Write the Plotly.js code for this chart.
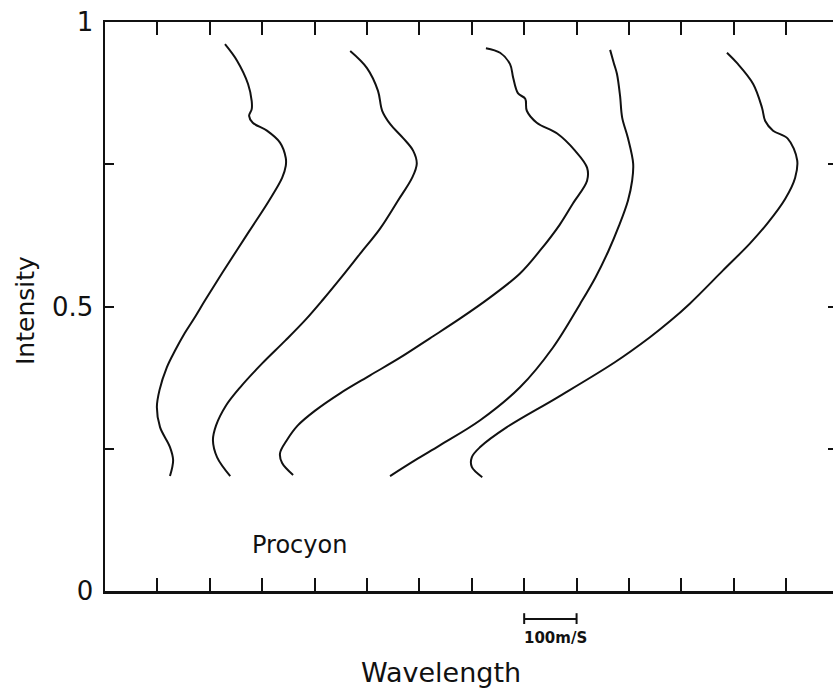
<!DOCTYPE html>
<html>
<head>
<meta charset="utf-8">
<script src="https://cdn.plot.ly/plotly-3.0.1.min.js"></script>
<style>
  html, body { margin: 0; padding: 0; overflow: hidden; background: #fff; }
  #chart { width: 850px; height: 690px; }
</style>
</head>
<body>
<div id="chart"></div>
<script>
// Line-profile bisectors (wavelength offset in m/s vs. relative intensity)
const profile1X = [229, 252, 273, 280, 280, 275, 282, 309, 334, 345, 345, 338, 313, 275, 223, 191, 170, 152, 134, 118, 104, 99, 105, 124, 130, 124];
const profile1Y = [0.961, 0.932, 0.891, 0.861, 0.847, 0.835, 0.823, 0.809, 0.788, 0.761, 0.747, 0.726, 0.686, 0.632, 0.558, 0.511, 0.479, 0.453, 0.423, 0.393, 0.353, 0.323, 0.288, 0.253, 0.230, 0.202];

const profile2X = [468, 500, 521, 529, 544, 569, 588, 595, 586, 559, 525, 487, 449, 415, 382, 344, 300, 258, 231, 212, 206, 214, 239];
const profile2Y = [0.949, 0.919, 0.879, 0.844, 0.821, 0.796, 0.774, 0.751, 0.726, 0.686, 0.637, 0.593, 0.549, 0.511, 0.476, 0.440, 0.400, 0.358, 0.326, 0.291, 0.265, 0.235, 0.202];

const profile3X = [727, 754, 773, 779, 788, 802, 805, 824, 863, 897, 920, 920, 893, 868, 830, 792, 735, 678, 620, 563, 506, 448, 401, 368, 347, 334, 338, 359];
const profile3Y = [0.954, 0.946, 0.926, 0.902, 0.875, 0.865, 0.844, 0.823, 0.804, 0.774, 0.744, 0.721, 0.681, 0.644, 0.598, 0.558, 0.516, 0.479, 0.444, 0.410, 0.379, 0.347, 0.317, 0.291, 0.265, 0.242, 0.225, 0.204];

const profile4X = [964, 971, 977, 983, 987, 998, 1008, 1006, 998, 981, 961, 936, 907, 855, 792, 716, 639, 592, 544];
const profile4Y = [0.951, 0.928, 0.909, 0.870, 0.832, 0.796, 0.751, 0.721, 0.686, 0.642, 0.598, 0.551, 0.505, 0.428, 0.358, 0.300, 0.256, 0.230, 0.202];

const profile5X = [1187, 1206, 1237, 1254, 1260, 1275, 1303, 1321, 1317, 1298, 1265, 1231, 1179, 1116, 1078, 1040, 973, 863, 767, 716, 700, 700, 720];
const profile5Y = [0.946, 0.928, 0.891, 0.849, 0.826, 0.809, 0.795, 0.757, 0.726, 0.689, 0.647, 0.611, 0.563, 0.505, 0.474, 0.446, 0.402, 0.340, 0.288, 0.253, 0.235, 0.218, 0.200];

const yTickVals = [0, 0.25, 0.5, 0.75, 1];
const yTickText = ["0", "", "0.5", "", "1"];
const scaleBar = [800, 900];          // 100 m/s
const scaleLabel = "100m/S";
const starLabel = "Procyon";
const starLabelPos = [276, 0.081];
const xTitle = "Wavelength";
const yTitle = "Intensity";

const profiles = [
  [profile1X, profile1Y], [profile2X, profile2Y], [profile3X, profile3Y],
  [profile4X, profile4Y], [profile5X, profile5Y]
];

const traces = profiles.map(p => ({
  x: p[0], y: p[1], type: 'scatter', mode: 'lines',
  line: { color: '#111', width: 2, shape: 'spline', smoothing: 1 },
  hoverinfo: 'skip', showlegend: false
}));

const font = "DejaVu Sans, Arial, sans-serif";
const W = 850, H = 690, M = { l: 105, r: 13, t: 22, b: 99 };
const plotW = W - M.l - M.r, plotH = H - M.t - M.b;
const px2paperX = px => (px - M.l) / plotW;
const px2paperY = py => (H - M.b - py) / plotH;

const layout = {
  width: W, height: H,
  margin: M,
  paper_bgcolor: '#fff', plot_bgcolor: '#fff',
  showlegend: false,
  xaxis: {
    range: [0, 1397], dtick: 100, tick0: 0,
    ticks: 'inside', ticklen: 13, tickwidth: 2, tickcolor: '#111',
    showticklabels: false, showgrid: false, zeroline: false,
    showline: true, linewidth: 2.5, linecolor: '#111', mirror: 'ticks'
  },
  yaxis: {
    range: [0, 1], tickvals: yTickVals, ticktext: yTickText,
    ticks: 'inside', ticklen: 9, tickwidth: 2, tickcolor: '#111',
    tickfont: { family: font, size: 26, color: '#111' },
    ticklabelstandoff: 4,
    showgrid: false, zeroline: false,
    showline: true, linewidth: 2.5, linecolor: '#111', mirror: 'ticks'
  },
  shapes: [
    { type: 'line', xref: 'x', yref: 'paper', x0: scaleBar[0], x1: scaleBar[1], y0: -0.049, y1: -0.049, line: { color: '#111', width: 2 } },
    { type: 'line', xref: 'x', yref: 'paper', x0: scaleBar[0], x1: scaleBar[0], y0: -0.039, y1: -0.058, line: { color: '#111', width: 2 } },
    { type: 'line', xref: 'x', yref: 'paper', x0: scaleBar[1], x1: scaleBar[1], y0: -0.039, y1: -0.058, line: { color: '#111', width: 2 } }
  ],
  annotations: [
    { text: starLabel, x: starLabelPos[0], y: starLabelPos[1], xref: 'x', yref: 'y',
      xanchor: 'left', yanchor: 'middle', showarrow: false,
      font: { family: font, size: 24, color: '#111' } },
    { text: '<b>' + scaleLabel + '</b>', x: scaleBar[0] - 4, y: -0.083, xref: 'x', yref: 'paper',
      xanchor: 'left', yanchor: 'middle', showarrow: false,
      font: { family: font, size: 15, color: '#111' } },
    { text: xTitle, x: px2paperX(441), y: px2paperY(672), xref: 'paper', yref: 'paper',
      xanchor: 'center', yanchor: 'middle', showarrow: false,
      font: { family: font, size: 27, color: '#111' } },
    { text: yTitle, x: px2paperX(25), y: px2paperY(311), xref: 'paper', yref: 'paper',
      xanchor: 'center', yanchor: 'middle', textangle: -90, showarrow: false,
      font: { family: font, size: 25, color: '#111' } }
  ]
};

Plotly.newPlot('chart', traces, layout, { staticPlot: true, displayModeBar: false });
</script>
</body>
</html>
